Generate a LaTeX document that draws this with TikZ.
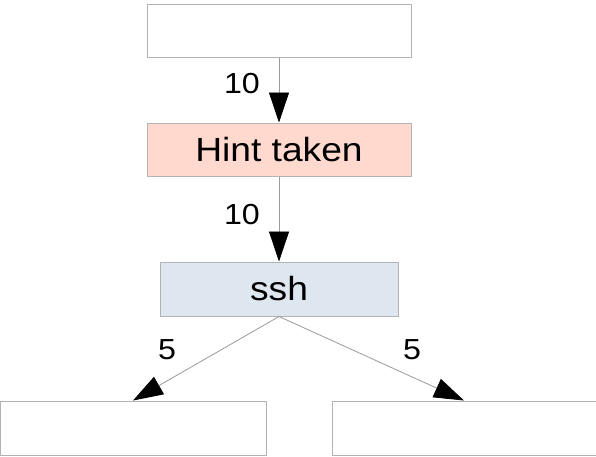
\documentclass[tikz,border=0pt]{standalone}
\usepackage{fontspec}
\usepackage{graphicx}
\setmainfont{Liberation Sans}
\usetikzlibrary{arrows.meta}
\definecolor{boxline}{HTML}{B3B3B3}
\definecolor{edgeline}{HTML}{9A9A9A}
\definecolor{hintfill}{HTML}{FFD8CE}
\definecolor{sshfill}{HTML}{DEE6EF}
\newcommand{\widetext}[1]{\scalebox{1.11}[1]{#1}}
\begin{document}
\begin{tikzpicture}[x=1pt,y=-1pt,
  box/.style={draw=boxline,line width=1pt,rectangle,inner sep=0pt,minimum height=53pt,font=\fontsize{33.5}{36}\selectfont},
  conn/.style={draw=edgeline,line width=0.8pt,-{Triangle[length=30pt,width=20pt,color=black]}},
  lbl/.style={font=\fontsize{29}{32}\selectfont,inner sep=0pt}]
\useasboundingbox (0,0) rectangle (596,456);
\fill[white] (0,0) rectangle (596,456);
\node[box,minimum width=264pt,fill=white] (top) at (279,30.5) {};
\node[box,minimum width=264pt,fill=hintfill] (hint) at (279,149.5) {\widetext{Hint taken}};
\node[box,minimum width=238pt,minimum height=54pt,fill=sshfill] (ssh) at (279,289) {\widetext{ssh}};
\node[box,minimum width=266pt,minimum height=54pt,fill=white] (bl) at (133,428) {};
\node[box,minimum width=264pt,minimum height=54pt,fill=white] (br) at (464,428) {};
\draw[conn] (top.south) -- (hint.north);
\draw[conn] (hint.south) -- (ssh.north);
\draw[conn] (ssh.south) -- (bl.north);
\draw[conn] (ssh.south) -- (br.north);
\node[lbl] (l1) at (242,84) {\widetext{10}};
\node[lbl] (l2) at (242,215) {\widetext{10}};
\node[lbl] (l3) at (167,350) {\widetext{5}};
\node[lbl] (l4) at (412,350) {\widetext{5}};
\end{tikzpicture}
\end{document}
